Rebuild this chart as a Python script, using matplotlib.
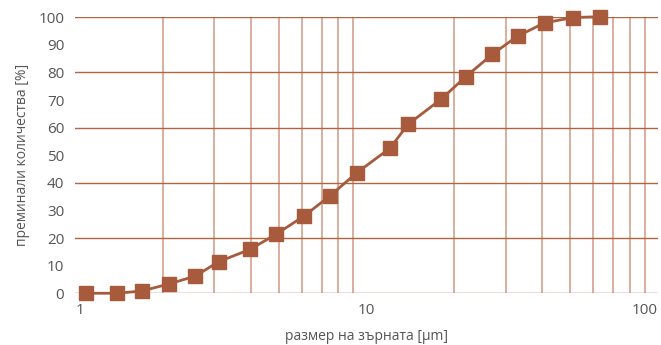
import matplotlib
matplotlib.use("Agg")
import matplotlib.pyplot as plt
from matplotlib.ticker import FixedLocator, NullFormatter

plt.rcParams['font.family'] = ['Open Sans', 'DejaVu Sans']

# data
grain_size = [1.09, 1.39, 1.69, 2.10, 2.58, 3.10, 3.98, 4.89, 6.1, 7.5, 9.26,
              12.0, 13.9, 18.0, 21.9, 27.0, 33.0, 40.9, 51.2, 63.1]
passed = [0, 0, 0.8, 3.4, 6.2, 11.4, 15.9, 21.4, 28, 35.4, 43.7,
          52.5, 61.3, 70.3, 78.5, 86.6, 93.2, 98.0, 99.9, 100.2]
x_ticks = [1, 10, 100]
x_tick_labels = ["1", "10", "100"]
y_ticks = list(range(0, 101, 10))
y_grid = list(range(0, 101, 20))
x_grid = [2, 3, 4, 5, 6, 7, 8, 9, 20, 30, 40, 50, 60, 70, 80, 90]

line_color = "#a85a3c"
hgrid_color = "#b2643f"
vgrid_color = "#d9ae9f"
text_color = "#555555"

fig = plt.figure(figsize=(6.61, 3.45), dpi=100)
ax = fig.add_axes([0.114, 0.150, 0.8815, 0.800])
ax.set_xscale("log")
ax.set_xlim(1, 100)
ax.set_ylim(0, 100)

for xv in x_grid:
    ax.axvline(xv, color=vgrid_color, lw=1.4, zorder=1)
for yv in y_grid:
    ax.axhline(yv, color=hgrid_color, lw=1.0, zorder=1.5)

ax.plot(grain_size, passed, color=line_color, lw=2.0, marker="s",
        markersize=10, markerfacecolor=line_color, markeredgecolor=line_color,
        zorder=3, clip_on=False)

for s in ax.spines.values():
    s.set_visible(False)

ax.xaxis.set_major_locator(FixedLocator(x_ticks))
ax.xaxis.set_minor_locator(FixedLocator(x_grid))
ax.xaxis.set_minor_formatter(NullFormatter())
ax.set_xticklabels(x_tick_labels)
ax.set_yticks(y_ticks)
ax.tick_params(axis="both", which="both", length=0, labelsize=11, colors=text_color)
ax.tick_params(axis="x", pad=7)
ax.tick_params(axis="y", pad=8)
labs = ax.get_xticklabels()
labs[0].set_ha("left")
labs[-1].set_ha("right")

ax.set_ylabel("преминали количества [%]", fontsize=10, color=text_color, labelpad=6)
ax.set_xlabel("размер на зърната [µm]", fontsize=10, color=text_color, labelpad=8)

fig.savefig("out.png", dpi=100)
